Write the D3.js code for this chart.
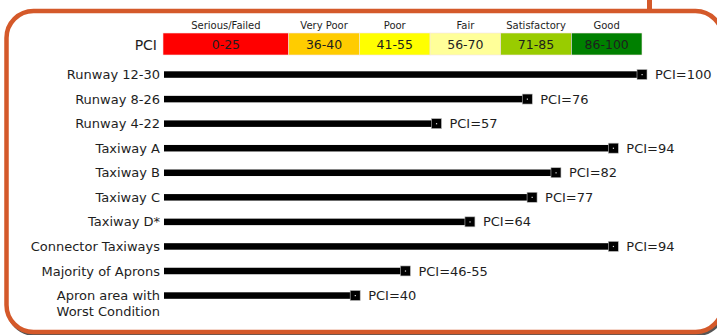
<!DOCTYPE html>
<html>
<head>
<meta charset="utf-8">
<script src="https://cdn.jsdelivr.net/npm/d3@7"></script>
<style>
  html, body { margin: 0; padding: 0; background: #fff; }
  svg { display: block; }
  text { font-family: "DejaVu Sans", sans-serif; fill: #1e1e1e; }
</style>
</head>
<body>
<svg id="chart" width="717" height="335"></svg>
<script>
// Pavement Condition Index (PCI) by airfield section
const sections = [
  "Runway 12-30", "Runway 8-26", "Runway 4-22", "Taxiway A", "Taxiway B",
  "Taxiway C", "Taxiway D*", "Connector Taxiways", "Majority of Aprons",
  "Apron area with\nWorst Condition"
];
const pciLow  = [100, 76, 57, 94, 82, 77, 64, 94, 46, 40];
const pciHigh = [100, 76, 57, 94, 82, 77, 64, 94, 55, 40];

// Condition rating bands
const ratingNames  = ["Serious/Failed", "Very Poor", "Poor", "Fair", "Satisfactory", "Good"];
const ratingRanges = ["0-25", "36-40", "41-55", "56-70", "71-85", "86-100"];
const ratingColors = ["#ff0000", "#ffcc00", "#ffff00", "#ffff99", "#99cc00", "#008000"];
const ratingWidths = [1.78, 1, 1, 1, 1, 1];

const svg = d3.select("#chart");
const frameColor = "#d4592a";

// frame with soft shadow and top connector
svg.append("rect")
  .attr("x", 8).attr("y", 13).attr("width", 716).attr("height", 321)
  .attr("rx", 27).attr("fill", "none").attr("stroke", "#555").attr("stroke-width", 4);
svg.append("rect")
  .attr("x", 6.5).attr("y", 11).attr("width", 716).attr("height", 321)
  .attr("rx", 27).attr("fill", "#fff").attr("stroke", frameColor).attr("stroke-width", 4.5);
svg.append("line")
  .attr("x1", 649.5).attr("x2", 649.5).attr("y1", 0).attr("y2", 11)
  .attr("stroke", frameColor).attr("stroke-width", 5);

const x = d3.scaleLinear().domain([0, 100]).range([164, 642]);
const y = d3.scalePoint().domain(sections).range([74.5, 295.5]);

// legend: rating bands
const legX = d3.scaleLinear()
  .domain([0, d3.sum(ratingWidths)])
  .range([163, 642]);
const cum = d3.cumsum([0, ...ratingWidths]);
const legend = svg.append("g");
const band = legend.selectAll("g").data(ratingNames).join("g");
band.append("rect")
  .attr("x", (d, i) => legX(cum[i]))
  .attr("y", 33)
  .attr("width", (d, i) => legX(cum[i + 1]) - legX(cum[i]))
  .attr("height", 22)
  .attr("fill", (d, i) => ratingColors[i])
  .attr("stroke", "#f3e3e3").attr("stroke-width", 0.6);
band.append("text")
  .attr("x", (d, i) => (legX(cum[i]) + legX(cum[i + 1])) / 2)
  .attr("y", 29)
  .attr("text-anchor", "middle")
  .attr("font-size", 10)
  .text(d => d);
band.append("text")
  .attr("x", (d, i) => (legX(cum[i]) + legX(cum[i + 1])) / 2)
  .attr("y", 49)
  .attr("text-anchor", "middle")
  .attr("font-size", 12.5)
  .text((d, i) => ratingRanges[i]);
legend.append("text")
  .attr("x", 157).attr("y", 49.5)
  .attr("text-anchor", "end")
  .attr("font-size", 14)
  .text("PCI");

// section rows
const rows = svg.append("g").selectAll("g")
  .data(sections.map((s, i) => ({ s, lo: pciLow[i], hi: pciHigh[i] })))
  .join("g")
  .attr("transform", d => `translate(0,${y(d.s)})`);

rows.append("text")
  .attr("x", 160).attr("text-anchor", "end")
  .attr("font-size", 13)
  .selectAll("tspan")
  .data(d => d.s.split("\n"))
  .join("tspan")
  .attr("x", 160)
  .attr("dy", (d, i) => i === 0 ? "0.35em" : "1.2em")
  .text(t => t);

const mid = d => (d.lo + d.hi) / 2;

rows.append("rect")
  .attr("x", x(0))
  .attr("y", -3.2)
  .attr("width", d => x(mid(d)) - x(0))
  .attr("height", 6.5)
  .attr("fill", "#000");

rows.append("rect")
  .attr("x", d => x(mid(d)) - 5)
  .attr("y", -5)
  .attr("width", 10).attr("height", 10)
  .attr("fill", "#000")
  .attr("stroke", "#bbb").attr("stroke-width", 0.6);
rows.append("rect")
  .attr("x", d => x(mid(d)) - 0.5)
  .attr("y", -0.5)
  .attr("width", 1.2).attr("height", 1.2)
  .attr("fill", "#ddd");

rows.append("text")
  .attr("x", d => x(mid(d)) + 13)
  .attr("dy", "0.35em")
  .attr("font-size", 13)
  .text(d => "PCI=" + (d.lo === d.hi ? d.lo : d.lo + "-" + d.hi));
</script>
</body>
</html>
